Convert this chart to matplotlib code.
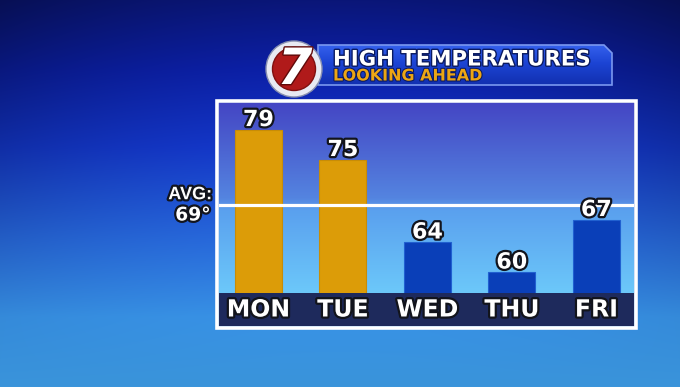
import numpy as np
import matplotlib

matplotlib.use("Agg")
import matplotlib.pyplot as plt
from matplotlib import patheffects as pe
from matplotlib.colors import to_rgb
from matplotlib.patches import Circle, Polygon, Rectangle

# data
days = ["MON", "TUE", "WED", "THU", "FRI"]
highs = [79, 75, 64, 60, 67]
avg_high = 69
title = "HIGH TEMPERATURES"
subtitle = "LOOKING AHEAD"

# layout (pixels, origin top-left)
W, H = 680, 387
BOX = (219, 103, 634, 293)      # plot area above the day band
BAND = (219, 293, 634, 326)
FIRST_CENTER = 258.4
SLOT_PX = 84.5
DEG_PX = 7.5
BASE_DEG = 57.2

ORANGE = "#dc9c08"
BLUE = "#0a3fb8"
NAVY = "#1e2a5c"
OUTLINE = [pe.withStroke(linewidth=3.2, foreground="#12141c")]


def gradient(stops, n):
    pos = [p for p, _ in stops]
    cols = np.array([to_rgb(c) for _, c in stops])
    t = np.linspace(0, 1, n)
    return np.stack([np.interp(t, pos, cols[:, i]) for i in range(3)], axis=-1)


def px_rect(x0, y0, x1, y1):
    return [x0 / W, 1 - y1 / H, (x1 - x0) / W, (y1 - y0) / H]


fig = plt.figure(figsize=(W / 100, H / 100), dpi=100)

# background
bg = fig.add_axes([0, 0, 1, 1], zorder=0)
col = gradient([(0.0, "#0a1678"), (0.18, "#0c20a8"), (0.38, "#1438cc"),
                (0.62, "#286ade"), (0.82, "#3892e6"), (1.0, "#3a94da")], H)
img = np.repeat(col[:, None, :], W, axis=1)
xx = np.linspace(-1, 1, W)[None, :]
yy = np.linspace(0, 1, H)[:, None]
img = np.clip(img * (1 - 0.3 * xx ** 2 * (1 - yy))[..., None], 0, 1)
bg.imshow(img, extent=(0, W, H, 0), aspect="auto", interpolation="bilinear")
bg.set_xlim(0, W)
bg.set_ylim(H, 0)
bg.axis("off")

# chart
x = np.arange(len(days))
xlim = ((BOX[0] - FIRST_CENTER) / SLOT_PX, (BOX[2] - FIRST_CENTER) / SLOT_PX)
ylim = (BASE_DEG, BASE_DEG + (BOX[3] - BOX[1]) / DEG_PX)

ax = fig.add_axes(px_rect(*BOX), zorder=2)
ax.set_xlim(*xlim)
ax.set_ylim(*ylim)
inner = gradient([(0.0, "#4446c4"), (0.5, "#5484e0"), (0.56, "#5aa0ee"),
                  (1.0, "#6cc8fa")], 200)
ax.imshow(inner[:, None, :], extent=(*xlim, *ylim), aspect="auto", zorder=0)
ax.bar(x, highs, width=47 / SLOT_PX,
       color=[ORANGE if v >= avg_high else BLUE for v in highs],
       edgecolor=["#c88c06" if v >= avg_high else "#2060d0" for v in highs],
       linewidth=0.8, zorder=2)
ax.axhline(avg_high, color="white", lw=2.3, zorder=3)
for xi, v in zip(x, highs):
    ax.annotate(f"{v}", (xi, v), xytext=(0, 2.5), textcoords="offset points",
                ha="center", va="baseline", fontsize=16, fontweight="bold",
                color="white", path_effects=OUTLINE, annotation_clip=False, zorder=4)
ax.annotate("AVG:", (0, avg_high), xycoords=ax.get_yaxis_transform(),
            xytext=(-5, 3.8), textcoords="offset points", ha="right", va="baseline",
            fontsize=13, fontweight="bold", family="Liberation Sans",
            color="white", path_effects=OUTLINE, annotation_clip=False)
ax.annotate(f"{avg_high}°", (0, avg_high), xycoords=ax.get_yaxis_transform(),
            xytext=(-6, -11.5), textcoords="offset points", ha="right", va="baseline",
            fontsize=13.5, fontweight="bold", color="white",
            path_effects=OUTLINE, annotation_clip=False)
ax.axis("off")

# day band
band = fig.add_axes(px_rect(*BAND), zorder=2)
band.set_xlim(*xlim)
band.set_ylim(0, 1)
band.set_facecolor(NAVY)
for xi, d in zip(x, days):
    band.text(xi, 0.5, d, ha="center", va="center", fontsize=17, fontweight="bold",
              color="white", path_effects=OUTLINE)
band.set_xticks([])
band.set_yticks([])
for s in band.spines.values():
    s.set_visible(False)

# overlay: frame, title banner, logo
ov = fig.add_axes([0, 0, 1, 1], zorder=5)
ov.set_xlim(0, W)
ov.set_ylim(H, 0)
ov.axis("off")
ov.add_patch(Rectangle((217.3, 101.3), 418.5, 226.2, fill=False, ec="white", lw=2.6))

banner = Polygon([(318, 45), (604, 45), (612, 53), (612, 85), (318, 85)],
                 closed=True, fc="none", ec="#7a98f0", lw=1.2, zorder=3)
ov.add_patch(banner)
bgrad = gradient([(0.0, "#3460ec"), (0.45, "#1c44d4"), (1.0, "#1230b0")], 60)
bim = ov.imshow(bgrad[:, None, :], extent=(318, 612, 85, 45), aspect="auto", zorder=2)
bim.set_clip_path(banner)
ov.set_xlim(0, W)
ov.set_ylim(H, 0)

ov.text(333, 65.5, title, ha="left", va="baseline", fontsize=15.3, fontweight="bold",
        color="white", path_effects=[pe.withStroke(linewidth=2, foreground="#0a1a60")],
        zorder=4)
ov.text(333, 80.5, subtitle, ha="left", va="baseline", fontsize=11.5, fontweight="bold",
        color="#eca614", path_effects=[pe.withStroke(linewidth=1.5, foreground="#0a1a60")],
        zorder=4)

ov.add_patch(Circle((294, 69), 28, fc="#e8eaf2", ec="#8890b0", lw=1, zorder=5))
ov.add_patch(Circle((294, 69), 21.5, fc="#b01a1a", ec="#801010", lw=1, zorder=6))
ov.text(295, 70, "7", ha="center", va="center", fontsize=36, fontweight="bold",
        style="italic", color="white",
        path_effects=[pe.withStroke(linewidth=2, foreground="#600a0a")], zorder=7)

fig.savefig("out.png", dpi=100)
